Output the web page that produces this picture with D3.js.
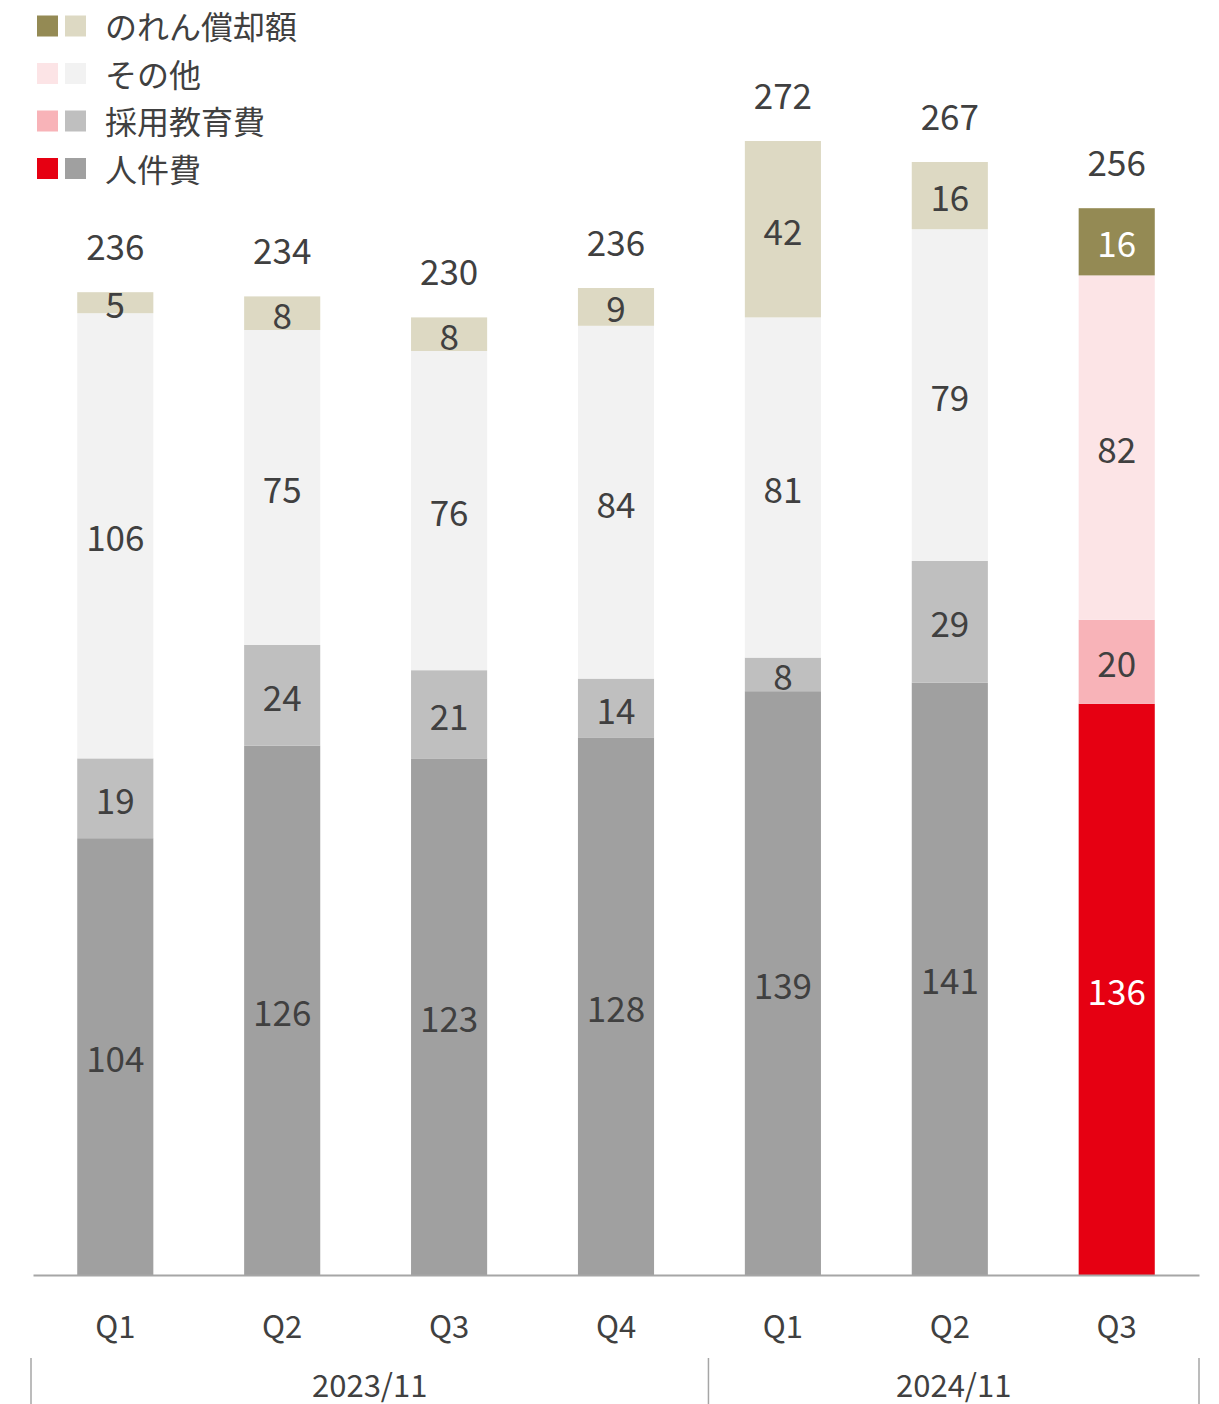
<!DOCTYPE html>
<html>
<head>
<meta charset="utf-8">
<script src="https://d3js.org/d3.v7.min.js"></script>
<style>
  body { margin: 0; background: #fff; }
  text { font-family: "Noto Sans CJK JP", "Noto Sans", sans-serif; }
</style>
</head>
<body>
<script>
let w = 1219;
let h = 1404;

// data
let quarters = ["Q1", "Q2", "Q3", "Q4", "Q1", "Q2", "Q3"];
let years = ["2023/11", "2023/11", "2023/11", "2023/11", "2024/11", "2024/11", "2024/11"];
let personnel = [104, 126, 123, 128, 139, 141, 136];
let recruiting = [19, 24, 21, 14, 8, 29, 20];
let others = [106, 75, 76, 84, 81, 79, 82];
let goodwill = [5, 8, 8, 9, 42, 16, 16];
let totals = [236, 234, 230, 236, 272, 267, 256];
let seriesNames = ["人件費", "採用教育費", "その他", "のれん償却額"];
let currentColors = ["#E60012", "#F8B3B8", "#FCE4E6", "#948A54"];
let pastColors = ["#A0A0A0", "#BFBFBF", "#F2F2F2", "#DDD9C3"];
let currentLabelColors = ["#fff", "#404040", "#404040", "#fff"];

let base = 1275;
let left = 33, right = 1199;

let rows = quarters.map((q, i) => ({
  key: i, q: q, year: years[i],
  s0: personnel[i], s1: recruiting[i], s2: others[i], s3: goodwill[i], total: totals[i]
}));
let lastIdx = rows.length - 1;

let x = d3.scaleBand().domain(rows.map(d => d.key)).range([left, right]).paddingInner(0.544).paddingOuter(0.265);
let y = d3.scaleLinear().domain([0, 100]).range([base, base - 420]);

let stack = d3.stack().keys(["s0", "s1", "s2", "s3"]);
let layers = stack(rows);

let svg = d3.select("body").append("svg").attr("width", w).attr("height", h);

let g = svg.append("g");
layers.forEach((layer, li) => {
  g.selectAll("rect.l" + li)
    .data(layer)
    .enter()
    .append("rect")
    .attr("x", d => x(d.data.key))
    .attr("width", x.bandwidth())
    .attr("y", d => y(d[1]))
    .attr("height", d => y(d[0]) - y(d[1]))
    .attr("fill", d => d.data.key === lastIdx ? currentColors[li] : pastColors[li]);

  g.selectAll("text.l" + li)
    .data(layer)
    .enter()
    .append("text")
    .attr("x", d => x(d.data.key) + x.bandwidth() / 2)
    .attr("y", d => (y(d[0]) + y(d[1])) / 2)
    .attr("text-anchor", "middle")
    .attr("dominant-baseline", "central")
    .attr("font-size", 35)
    .attr("fill", d => d.data.key === lastIdx ? currentLabelColors[li] : "#404040")
    .text(d => d[1] - d[0]);
});

// totals
g.selectAll("text.total")
  .data(rows)
  .enter()
  .append("text")
  .attr("x", d => x(d.key) + x.bandwidth() / 2)
  .attr("y", d => y(d.s0 + d.s1 + d.s2 + d.s3) - 48)
  .attr("text-anchor", "middle")
  .attr("dominant-baseline", "central")
  .attr("font-size", 35)
  .attr("fill", "#404040")
  .text(d => d.total);

// axis
let xAxis = d3.axisBottom(x).tickSize(0).tickFormat(i => quarters[i]);
let ax = svg.append("g").attr("transform", "translate(0," + base + ")").call(xAxis);
ax.select(".domain").attr("stroke", "#A6A6A6").attr("stroke-width", 2);
ax.selectAll(".tick text")
  .attr("y", 49)
  .attr("dy", 0)
  .attr("dominant-baseline", "central")
  .attr("font-size", 31)
  .attr("font-family", "Noto Sans CJK JP")
  .attr("fill", "#404040");

// year groups
let yearGroups = d3.groups(rows, d => d.year);
let groupEdges = [left - 2];
yearGroups.forEach(([yr, items]) => {
  let lastItem = items[items.length - 1];
  groupEdges.push(x(lastItem.key) + x.bandwidth() + x.step() * x.paddingInner() / 2 + 9);
});
groupEdges[groupEdges.length - 1] = right;
svg.selectAll("line.sep")
  .data(groupEdges)
  .enter()
  .append("line")
  .attr("x1", d => d).attr("x2", d => d)
  .attr("y1", 1358).attr("y2", 1404)
  .attr("stroke", "#A6A6A6").attr("stroke-width", 1.5);

svg.selectAll("text.year")
  .data(yearGroups)
  .enter()
  .append("text")
  .attr("x", (d, i) => (groupEdges[i] + groupEdges[i + 1]) / 2)
  .attr("y", 1383)
  .attr("text-anchor", "middle")
  .attr("dominant-baseline", "central")
  .attr("font-size", 31)
  .attr("fill", "#404040")
  .text(d => d[0]);

// legend
let legendOrder = [3, 2, 1, 0];
let lg = svg.append("g");
legendOrder.forEach((si, r) => {
  let cy = 26 + r * 47.5;
  lg.append("rect").attr("x", 37).attr("y", cy - 10.5).attr("width", 21).attr("height", 21).attr("fill", currentColors[si]);
  lg.append("rect").attr("x", 65).attr("y", cy - 10.5).attr("width", 21).attr("height", 21).attr("fill", pastColors[si]);
  lg.append("text").attr("x", 105).attr("y", cy - 1)
    .attr("dominant-baseline", "central")
    .attr("font-size", 32)
    .attr("fill", "#404040")
    .text(seriesNames[si]);
});
</script>
</body>
</html>
